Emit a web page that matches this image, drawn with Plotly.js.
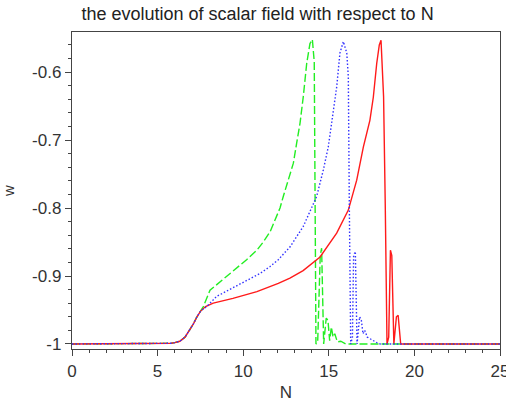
<!DOCTYPE html>
<html>
<head>
<meta charset="utf-8">
<script src="https://cdn.plot.ly/plotly-3.0.1.min.js"></script>
<style>html,body{margin:0;padding:0;background:#fff;}#chart{width:506px;height:402px;}</style>
</head>
<body>
<div id="chart"></div>
<script>
// Data
const greenN = [0,5.5,5.8,6.0,6.3,6.6,6.9,7.1,7.3,7.5,7.67,8.06,9.03,10.2,10.8,11.17,11.57,12.15,12.34,12.93,13.12,13.32,13.51,13.71,13.9,14.04,14.15,14.2,14.25,14.35,14.5,14.58,14.7,14.85,14.95,15.05,15.15,15.25,15.35,15.5,15.7,16,25];
const greenW = [-1,-1,-0.999,-0.998,-0.996,-0.99,-0.979,-0.97,-0.96,-0.952,-0.945,-0.921,-0.901,-0.876,-0.862,-0.85,-0.835,-0.8,-0.783,-0.734,-0.705,-0.675,-0.636,-0.587,-0.558,-0.552,-0.585,-0.75,-1.0,-0.998,-0.87,-0.859,-1.0,-0.962,-0.965,-0.995,-0.975,-0.99,-0.985,-0.997,-0.996,-1,-1];

const blueN = [0,5.5,5.8,6.0,6.3,6.6,6.9,7.1,7.3,7.5,7.7,7.87,8.45,9.8,11.0,11.57,12.05,12.74,13.51,14.29,14.68,14.97,15.2,15.46,15.65,15.85,16.05,16.14,16.2,16.28,16.38,16.45,16.55,16.65,16.8,16.9,17.0,17.1,17.25,17.5,17.8,18.0,25];
const blueW = [-1,-1,-0.999,-0.998,-0.996,-0.99,-0.979,-0.97,-0.96,-0.952,-0.948,-0.945,-0.93,-0.912,-0.896,-0.886,-0.876,-0.857,-0.827,-0.783,-0.744,-0.71,-0.671,-0.622,-0.572,-0.555,-0.572,-0.607,-0.8,-1.0,-0.99,-0.87,-0.864,-1.0,-0.96,-0.965,-0.985,-0.98,-0.99,-0.994,-0.998,-1,-1];

const redN = [0,5.5,5.8,6.0,6.3,6.6,6.9,7.1,7.3,7.5,7.8,8.25,9.4,10.8,12.05,12.73,13.5,14.49,15.46,16.14,16.63,17.02,17.4,17.6,17.8,17.95,18.05,18.2,18.3,18.4,18.5,18.6,18.68,18.8,18.95,19.05,19.2,25];
const redW = [-1,-1,-0.999,-0.998,-0.996,-0.99,-0.979,-0.97,-0.96,-0.952,-0.945,-0.94,-0.933,-0.923,-0.911,-0.903,-0.892,-0.872,-0.837,-0.803,-0.759,-0.71,-0.671,-0.637,-0.587,-0.56,-0.553,-0.636,-0.8,-1.0,-0.99,-0.862,-0.87,-1.0,-0.96,-0.958,-1.0,-1];

const xTicks = [0,5,10,15,20,25];
const yTicks = [-1,-0.9,-0.8,-0.7,-0.6];
const yTickText = ['-1','-0.9','-0.8','-0.7','-0.6'];

const traces = [
  {x: greenN, y: greenW, mode: 'lines', line: {color: '#22ee22', width: 1.4, dash: '8px,3px'}},
  {x: redN, y: redW, mode: 'lines', line: {color: '#ff1a1a', width: 1.4}},
  {x: blueN, y: blueW, mode: 'lines', line: {color: '#3333ff', width: 1.4, dash: '1.5px,2px'}}
];

const font = 'Liberation Sans, Arial, sans-serif';
const layout = {
  width: 506, height: 402,
  margin: {l: 72, r: 6, t: 32, b: 53},
  paper_bgcolor: '#ffffff', plot_bgcolor: '#ffffff',
  showlegend: false,
  title: {text: 'the evolution of scalar field with respect to N', x: 0.509, xref: 'container', xanchor: 'center',
          y: 0.966, yref: 'container', yanchor: 'middle',
          font: {family: font, size: 18, color: '#222'}},
  xaxis: {
    range: [0, 25], tickvals: xTicks, ticktext: xTicks.map(String), ticklabeloverflow: 'allow',
    showgrid: false, zeroline: false, showline: true, linecolor: '#444', linewidth: 1.2, mirror: true,
    ticks: 'outside', ticklen: 6, tickwidth: 1, tickcolor: '#444',
    minor: {dtick: 1, ticks: 'outside', ticklen: 3, tickcolor: '#444', showgrid: false},
    tickfont: {family: font, size: 17, color: '#333'},
    title: {text: 'N', font: {family: font, size: 17, color: '#333'}, standoff: 6}
  },
  yaxis: {
    range: [-1.0074, -0.541], tickvals: yTicks, ticktext: yTickText, ticklabeloverflow: 'allow',
    showgrid: false, zeroline: false, showline: true, linecolor: '#444', linewidth: 1.2, mirror: true,
    ticks: 'outside', ticklen: 6, tickwidth: 1, tickcolor: '#444',
    minor: {dtick: 0.02, tick0: -1, ticks: 'outside', ticklen: 3, tickcolor: '#444', showgrid: false},
    tickfont: {family: font, size: 17, color: '#333'},
    title: {text: 'w', font: {family: font, size: 15, color: '#333'}, standoff: 20}
  }
};

Plotly.newPlot('chart', traces, layout, {displayModeBar: false, staticPlot: true});
</script>
</body>
</html>
